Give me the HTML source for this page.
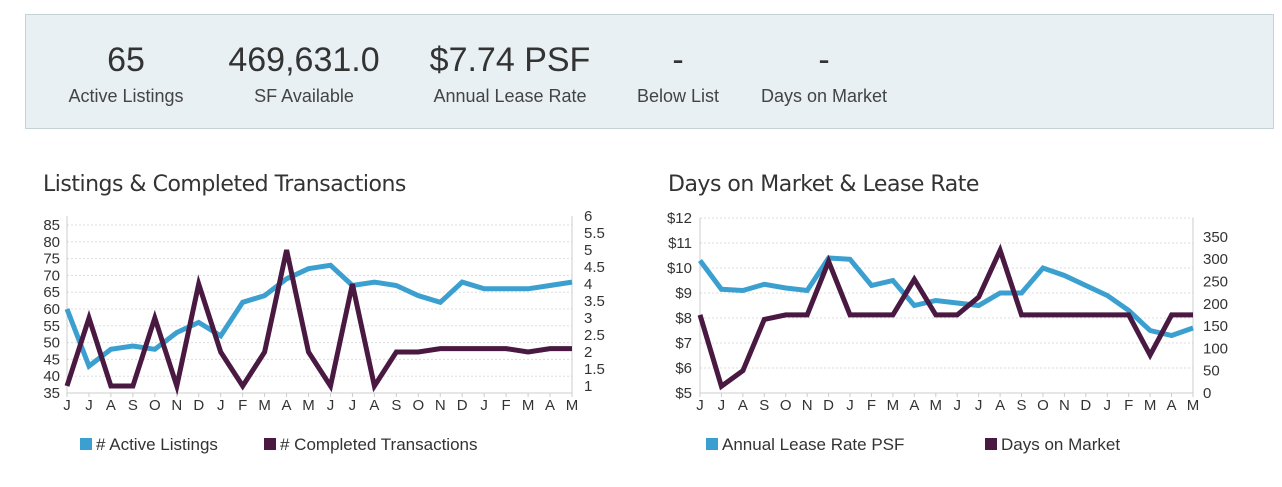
<!DOCTYPE html>
<html><head><meta charset="utf-8"><style>
body{margin:0;background:#fff;width:1282px;height:482px;overflow:hidden;font-family:"Liberation Sans",sans-serif;}
svg text{font-family:"Liberation Sans",sans-serif;}
</style></head><body>
<svg id="s" width="1282" height="482" xmlns="http://www.w3.org/2000/svg">
<rect x="25.5" y="14.5" width="1248" height="114" fill="#e8f0f3" stroke="#c5d3d9"/>
<g fill="#333" text-anchor="middle">
<text x="126" y="71" font-size="34">65</text>
<text x="304" y="71" font-size="34">469,631.0</text>
<text x="510" y="71" font-size="34">$7.74 PSF</text>
<text x="678" y="71" font-size="34">-</text>
<text x="824" y="71" font-size="34">-</text>
<g font-size="18" fill="#444">
<text x="126" y="102">Active Listings</text>
<text x="304" y="102">SF Available</text>
<text x="510" y="102">Annual Lease Rate</text>
<text x="678" y="102">Below List</text>
<text x="824" y="102">Days on Market</text>
</g></g>
<text x="43" y="191" font-size="22" fill="#333" style="font-family:'DejaVu Sans',sans-serif;letter-spacing:-0.5px">Listings &amp; Completed Transactions</text>
<text x="668" y="191" font-size="22" fill="#333" style="font-family:'DejaVu Sans',sans-serif;letter-spacing:-0.5px">Days on Market &amp; Lease Rate</text>
<g id="g"></g>
<rect x="80" y="438" width="12" height="12" fill="#3ba0cf"/>
<text x="96" y="450" font-size="17" fill="#333"># Active Listings</text>
<rect x="264" y="438" width="12" height="12" fill="#4a1942"/>
<text x="280" y="450" font-size="17" fill="#333"># Completed Transactions</text>
<rect x="706" y="438" width="12" height="12" fill="#3ba0cf"/>
<text x="722" y="450" font-size="17" fill="#333">Annual Lease Rate PSF</text>
<rect x="985" y="438" width="12" height="12" fill="#4a1942"/>
<text x="1001" y="450" font-size="17" fill="#333">Days on Market</text>
</svg>
<script>
var g=document.getElementById('g'),h='';
var M="JJASONDJFMAMJJASONDJFMAM";
function line(x1,y1,x2,y2,st){h+='<line x1="'+x1+'" y1="'+y1+'" x2="'+x2+'" y2="'+y2+'" '+st+'/>';}
function txt(x,y,t,a){h+='<text x="'+x+'" y="'+y+'" font-size="15" fill="#333" text-anchor="'+a+'">'+t+'</text>';}
function path(xs,ys,c){var d='';for(var i=0;i<xs.length;i++)d+=(i?'L':'M')+xs[i].toFixed(1)+' '+ys[i].toFixed(1);h+='<path d="'+d+'" fill="none" stroke="'+c+'" stroke-width="5" stroke-linejoin="miter"/>';}
var L0=67,Ls=(572-67)/23;
for(var v=35;v<=85;v+=5){var y=393-(v-35)*3.36;if(v>35)line(67,y,572,y,'stroke="#ddd" stroke-dasharray="2,2"');txt(60,y+5,v,'end');}
for(var v=1;v<=6;v+=0.5){var y=386-(v-1)*34;txt(584,y+5,v,'start');}
line(67,393,572,393,'stroke="#ccc"');line(67,216,67,393,'stroke="#ccc"');line(572,216,572,393,'stroke="#ccc"');
var xs=[];for(var i=0;i<24;i++){xs.push(L0+i*Ls);txt(L0+i*Ls,410,M[i],'middle');line(L0+i*Ls,393,L0+i*Ls,397,'stroke="#ccc"');}
var b=[60,43,48,49,48,53,56,52,62,64,69,72,73,67,68,67,64,62,68,66,66,66,67,68];
var p=[1,3,1,1,3,1,4,2,1,2,5,2,1,4,1,2,2,2.1,2.1,2.1,2.1,2,2.1,2.1];
path(xs,b.map(function(v){return 393-(v-35)*3.36}),'#3ba0cf');
path(xs,p.map(function(v){return 386-(v-1)*34}),'#4a1942');
var R0=700,Rs=(1193-700)/23;
for(var v=5;v<=12;v++){var y=393-(v-5)*25;if(v>5)line(700,y,1193,y,'stroke="#ddd" stroke-dasharray="2,2"');txt(692,y+5,'$'+v,'end');}
for(var v=0;v<=350;v+=50){var y=393-v*0.446;txt(1203,y+5,v,'start');}
line(700,393,1193,393,'stroke="#ccc"');line(700,218,700,393,'stroke="#ccc"');line(1193,218,1193,393,'stroke="#ccc"');
var xr=[];for(var i=0;i<24;i++){xr.push(R0+i*Rs);txt(R0+i*Rs,410,M[i],'middle');line(R0+i*Rs,393,R0+i*Rs,397,'stroke="#ccc"');}
var rb=[10.3,9.15,9.1,9.35,9.2,9.1,10.4,10.35,9.3,9.5,8.5,8.7,8.6,8.5,9.0,9.0,10.0,9.7,9.3,8.9,8.3,7.5,7.3,7.6];
var rp=[175,15,50,165,175,175,295,175,175,175,255,175,175,215,320,175,175,175,175,175,175,85,175,175];
path(xr,rb.map(function(v){return 393-(v-5)*25}),'#3ba0cf');
path(xr,rp.map(function(v){return 393-v*0.446}),'#4a1942');
g.innerHTML=h;
</script>
</body></html>
